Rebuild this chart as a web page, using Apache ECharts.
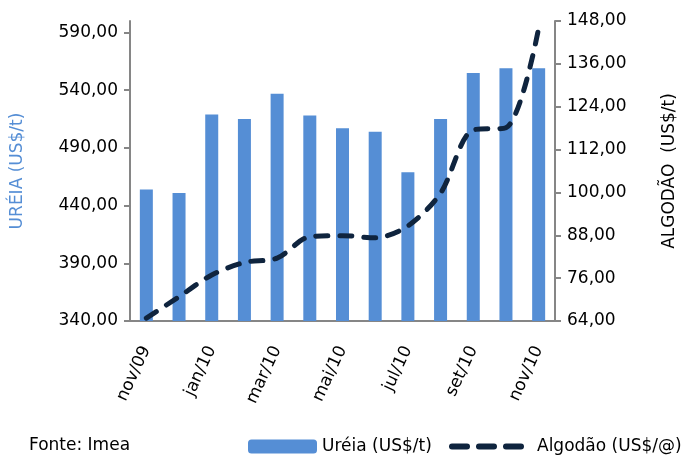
<!DOCTYPE html>
<html>
<head>
<meta charset="utf-8">
<script src="https://cdn.jsdelivr.net/npm/echarts@6/dist/echarts.min.js"></script>
<style>
  html,body{margin:0;padding:0;background:#fff;}
  #main{width:686px;height:457px;}
</style>
</head>
<body>
<div id="main"></div>
<script>
var meses=['nov/09','dez/09','jan/10','fev/10','mar/10','abr/10','mai/10','jun/10','jul/10','ago/10','set/10','out/10','nov/10'];
var ureia=[454,451,519,515,537,518,507,504,469,515,555,559,559];
var algodao=[64.8,70.8,76.9,80.4,81.6,87.6,87.9,87.3,90.6,99.8,117.5,118.1,146];
var ticksUreia=[340,390,440,490,540,590];

var fonte='"DejaVu Sans", sans-serif';
var myChart=echarts.init(document.getElementById('main'));

function virgula(v){return v.toFixed(2).replace('.',',');}

var option={
  animation:false,
  textStyle:{fontFamily:fonte},
  grid:{left:130,right:125,top:21,bottom:136},
  legend:[{
    left:243,
    top:433,
    itemWidth:69,
    itemHeight:14,
    textStyle:{fontSize:17,color:'#000',fontFamily:fonte},
    data:['Uréia (US$/t)']
  },{
    left:444,
    top:433,
    itemWidth:80,
    itemHeight:14,
    textStyle:{fontSize:17,color:'#000',fontFamily:fonte},
    data:[
      {name:'Algodão (US$/@)',itemStyle:{color:'rgba(0,0,0,0)',borderWidth:0},
       lineStyle:{color:'#0F243E',width:6,type:[15,12,15,12,15,40],cap:'round'}}
    ]
  }],
  graphic:[{
    type:'text',
    left:29,
    top:437,
    style:{text:'Fonte: Imea',fontSize:17,fill:'#000',fontFamily:fonte}
  }],
  xAxis:{
    type:'category',
    data:meses,
    axisLine:{lineStyle:{color:'#868686',width:2}},
    axisTick:{interval:1,length:6,lineStyle:{color:'#868686',width:2}},
    axisLabel:{interval:1,rotate:65,margin:26,fontSize:17,color:'#000'}
  },
  yAxis:[{
    type:'value',
    min:340,
    max:600,
    interval:50,
    name:'URÉIA (US$/t)',
    nameLocation:'middle',
    nameGap:104,
    nameTextStyle:{color:'#558ED5',fontSize:17},
    splitLine:{show:false},
    axisLine:{show:true,lineStyle:{color:'#868686',width:2}},
    axisTick:{show:true,length:6,customValues:ticksUreia,lineStyle:{color:'#868686',width:2}},
    axisLabel:{customValues:ticksUreia,fontSize:17,color:'#000',margin:12,formatter:virgula}
  },{
    type:'value',
    min:64,
    max:148,
    interval:12,
    name:'ALGODÃO  (US$/t)',
    nameLocation:'middle',
    nameGap:106,
    nameTextStyle:{color:'#000',fontSize:17},
    splitLine:{show:false},
    axisLine:{show:true,lineStyle:{color:'#868686',width:2}},
    axisTick:{show:true,inside:false,length:6,lineStyle:{color:'#868686',width:2}},
    axisLabel:{fontSize:17,color:'#000',margin:12,formatter:virgula}
  }],
  series:[{
    name:'Uréia (US$/t)',
    type:'bar',
    data:ureia,
    barWidth:13,
    itemStyle:{color:'#558ED5'}
  },{
    name:'Algodão (US$/@)',
    type:'line',
    yAxisIndex:1,
    data:algodao,
    smooth:0.3,
    symbol:'none',
    lineStyle:{color:'#0F243E',width:5,type:[12,12],cap:'round'},
    itemStyle:{color:'#0F243E'}
  }]
};
myChart.setOption(option);
</script>
</body>
</html>
